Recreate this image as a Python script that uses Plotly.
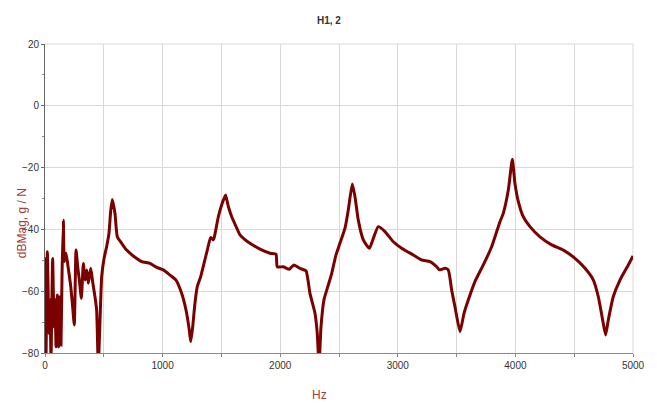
import plotly.graph_objects as go

# Frequency response function H1,2 (magnitude in dB, g/N)
freq_hz = [
    0, 8, 20, 34, 43, 51, 65, 77, 85, 94, 105, 116, 128, 136, 145, 156, 164, 179,
    198, 219, 235, 249, 264, 278, 292, 309, 326, 340, 355, 368, 389, 405, 425, 439,
    453, 468, 482, 502, 524, 544, 558, 572, 595, 615, 652, 694, 751, 822, 893, 950,
    1006, 1063, 1114, 1162, 1199, 1227, 1239, 1256, 1275, 1295, 1324, 1352, 1380,
    1409, 1431, 1440, 1474, 1502, 1535, 1559, 1587, 1630, 1658, 1700, 1743, 1828,
    1913, 1964, 1975, 2026, 2077, 2117, 2168, 2219, 2253, 2296, 2315, 2330, 2347,
    2372, 2409, 2438, 2474, 2508, 2551, 2579, 2613, 2636, 2664, 2707, 2758, 2792,
    2834, 2891, 2962, 3033, 3132, 3203, 3274, 3331, 3353, 3401, 3429, 3458, 3486,
    3529, 3563, 3600, 3656, 3727, 3798, 3841, 3869, 3897, 3940, 3974, 3996, 4025,
    4067, 4124, 4209, 4308, 4408, 4507, 4592, 4663, 4705, 4742, 4767, 4790, 4832,
    4889, 4960, 5000,
]
mag_db = [
    -49, -82, -47.2, -73.6, -62.8, -82, -49.4, -71.5, -62.8, -78, -61.2, -78, -61.8,
    -77.4, -54.2, -37, -50.4, -47.7, -52.6, -58.5, -65, -70.9, -46.7, -52.1, -56.4,
    -62.3, -51, -56.4, -53.1, -57.4, -52.6, -56.9, -61.8, -66.1, -84, -69.3, -55.3,
    -49.4, -45.6, -41.3, -34.3, -30.3, -34.8, -42.4, -44.5, -46.7, -48.6, -50.4,
    -51, -52.3, -53.1, -54.8, -56.4, -60.7, -66.1, -72.6, -76.3, -71.5, -63.9,
    -58.5, -55.3, -51, -46.7, -42.6, -43.4, -42.5, -35.9, -32.1, -28.9, -32.6,
    -35.8, -39.5, -41.8, -43.3, -44.5, -46.4, -47.7, -48.0, -52.1, -52.1, -52.9,
    -51.5, -52.6, -53.4, -60.7, -67.2, -73.6, -84, -71.5, -62.8, -58, -54.2, -48.3,
    -44.5, -39.6, -33.7, -25.3, -29.4, -37, -43.4, -46.1, -42.9, -39.1, -40.7, -44,
    -46.1, -48.3, -49.9, -50.4, -52.1, -53.1, -52.6, -53.1, -59.6, -65, -73.1,
    -67.2, -62.8, -56.9, -51.5, -45.6, -40.7, -37.5, -34.8, -27.2, -17.3, -25.1,
    -31, -35.9, -39.1, -42.4, -45, -46.7, -49.4, -52.6, -56.4, -61.8, -69.3, -74.2,
    -69.3, -61.8, -56.4, -51.5, -48.6,
]

x_range = [0, 5000]
y_range = [-80, 20]
title_text = "H1, 2"
x_title = "Hz"
y_title = "dBMag, g / N"

line_color = "#7b0000"
axis_title_color = "#a83a3a"
tick_color = "#333333"
grid_color = "#d9d9d9"
font_family = "Liberation Sans, Arial, sans-serif"

fig = go.Figure()
fig.add_trace(go.Scatter(
    x=freq_hz, y=mag_db, mode="lines",
    line=dict(color=line_color, width=3, shape="spline", smoothing=0.5),
    hoverinfo="x+y", showlegend=False,
))

fig.update_layout(
    width=657, height=403,
    margin=dict(l=45, r=24, t=44, b=50),
    paper_bgcolor="white", plot_bgcolor="white",
    font=dict(family=font_family, size=10, color=tick_color),
    showlegend=False,
)

fig.update_xaxes(
    range=x_range, dtick=1000, tick0=0,
    showgrid=True, gridcolor=grid_color, gridwidth=1, zeroline=False,
    showline=True, linecolor="#888888", linewidth=1,
    ticks="outside", ticklen=3, tickcolor="#888888",
    minor=dict(dtick=500, showgrid=True, gridcolor=grid_color, gridwidth=1,
               ticks="outside", ticklen=3, tickcolor="#888888"),
    tickfont=dict(size=10, color=tick_color),
)
fig.update_yaxes(
    range=y_range, dtick=20, tick0=-80,
    showgrid=True, gridcolor=grid_color, gridwidth=1, zeroline=False,
    showline=True, linecolor="#666666", linewidth=1,
    ticks="outside", ticklen=3, tickcolor="#666666",
    minor=dict(dtick=10, ticks="outside", ticklen=2, tickcolor="#888888", showgrid=False),
    tickfont=dict(size=10, color=tick_color),
)

# top and right frame lines drawn as grid edges
fig.add_shape(type="line", xref="paper", yref="paper", x0=0, x1=1, y0=1, y1=1,
              line=dict(color=grid_color, width=1), layer="below")
fig.add_shape(type="line", xref="paper", yref="paper", x0=1, x1=1, y0=0, y1=1,
              line=dict(color=grid_color, width=1), layer="below")

fig.add_annotation(text=f"<b>{title_text}</b>", xref="paper", yref="paper",
                   x=0.483, y=1, yshift=24, xanchor="center", yanchor="middle",
                   showarrow=False,
                   font=dict(size=10, color="#333333", family=font_family))
fig.add_annotation(text=x_title, xref="paper", yref="paper",
                   x=0.466, y=0, yshift=-42, xanchor="center", yanchor="middle",
                   showarrow=False,
                   font=dict(size=12, color=axis_title_color, family=font_family))
fig.add_annotation(text=y_title, xref="paper", yref="paper",
                   x=0, xshift=-23, y=0.42, xanchor="center", yanchor="middle",
                   textangle=-90, showarrow=False,
                   font=dict(size=12, color=axis_title_color, family=font_family))

fig.write_html("out.html")
